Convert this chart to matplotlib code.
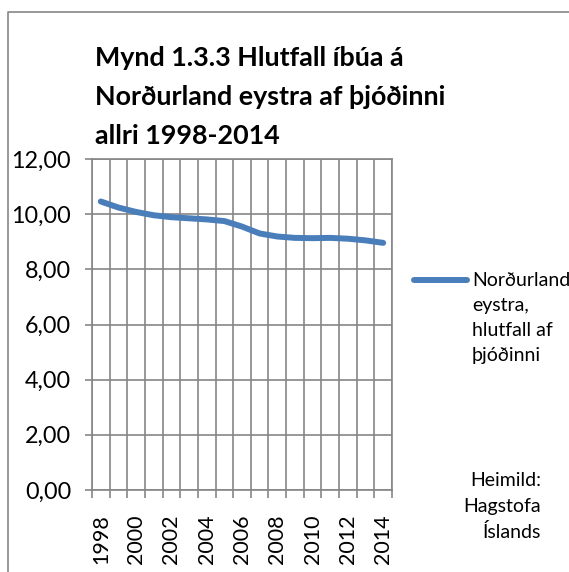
import numpy as np
import matplotlib.pyplot as plt
from matplotlib.lines import Line2D

years = list(range(1998, 2015))
hlutfall = [10.46, 10.24, 10.08, 9.96, 9.89, 9.85, 9.81, 9.75, 9.55,
            9.30, 9.19, 9.14, 9.13, 9.14, 9.11, 9.05, 8.96]
year_labels = [str(y) for y in years]

plt.rcParams['font.family'] = ['Lato', 'DejaVu Sans']

W, H = 569, 572
fig = plt.figure(figsize=(W / 100, H / 100), dpi=100)
ax = fig.add_axes([92 / W, 1 - 490 / H, 300 / W, 331 / H])

x = np.arange(len(years))
ax.plot(x, hlutfall, color='#4A7EBB', lw=4.3, solid_capstyle='round',
        solid_joinstyle='round', zorder=3)

ax.set_xlim(-0.5, len(years) - 0.5)
ax.set_ylim(0, 12)
yt = np.arange(0, 13, 2)
ax.set_yticks(yt, [f'{v:.2f}'.replace('.', ',') for v in yt], fontsize=16.8)

# gridlines/ticks at category boundaries, labels at every other category
bounds = np.arange(len(years) + 1) - 0.5
ax.set_xticks(bounds, [''] * len(bounds))
ax.set_xticks(x[::2], year_labels[::2], minor=True, rotation=90, fontsize=15.5)
ax.tick_params(axis='x', which='major', length=6, width=1.2, color='#868686')
ax.tick_params(axis='x', which='minor', length=0, pad=17.5)
ax.tick_params(axis='y', length=5, width=1.2, color='#868686', pad=10)

for b in bounds:
    ax.axvline(b, color='#868686', lw=1.2, zorder=1)
ax.yaxis.grid(True, color='#868686', lw=1.2)
for s in ax.spines.values():
    s.set_color('#868686')
    s.set_linewidth(1.2)
ax.set_axisbelow(True)

for i, t in enumerate(['Mynd 1.3.3 Hlutfall íbúa á', 'Norðurland eystra af þjóðinni',
                       'allri 1998-2014']):
    fig.text(95 / W, 1 - (58 + 39 * i) / H, t, fontsize=19.4,
             fontweight='bold', va='center', ha='left')

# legend
fig.add_artist(Line2D([414 / W, 467 / W], [1 - 280 / H, 1 - 280 / H],
                      color='#4A7EBB', lw=4.3, solid_capstyle='round'))
for i, t in enumerate(['Norðurland', 'eystra,', 'hlutfall af', 'þjóðinni']):
    fig.text(472 / W, 1 - (281 + 25 * i) / H, t, fontsize=14,
             va='center', ha='left')

for i, t in enumerate(['Heimild:', 'Hagstofa', 'Íslands']):
    fig.text(541 / W, 1 - (481 + 25.5 * i) / H, t, fontsize=14,
             va='center', ha='right')

# outer chart border (left and top edges visible)
fig.add_artist(Line2D([8 / W, 8 / W, 1.0], [0, 1 - 12 / H, 1 - 12 / H],
                      color='#868686', lw=1.2))

fig.savefig('out.png', dpi=100)
